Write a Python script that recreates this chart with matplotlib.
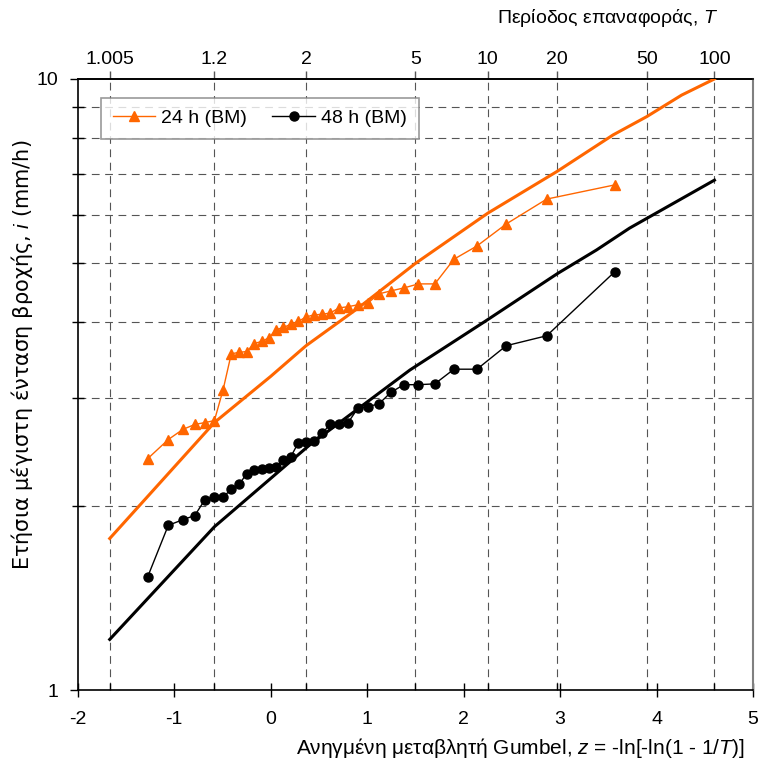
import numpy as np
import matplotlib
matplotlib.use("Agg")
import matplotlib.pyplot as plt
from matplotlib.ticker import LogLocator, NullFormatter, FixedLocator

# return periods shown on the top axis
T_ticks = [1.005, 1.2, 2, 5, 10, 20, 50, 100]
T_labels = ["1.005", "1.2", "2", "5", "10", "20", "50", "100"]

# observed annual maxima, plotted at their Gumbel reduced variate z
z_obs = [-1.276, -1.061, -0.910, -0.787, -0.680, -0.583, -0.493, -0.408, -0.327,
         -0.248, -0.170, -0.094, -0.018, 0.057, 0.133, 0.210, 0.287, 0.367,
         0.448, 0.531, 0.618, 0.708, 0.803, 0.903, 1.009, 1.123, 1.246, 1.381,
         1.532, 1.702, 1.900, 2.139, 2.442, 2.862, 3.569]
i24_obs = [2.39, 2.57, 2.67, 2.72, 2.74, 2.76, 3.10, 3.55, 3.57, 3.58, 3.69, 3.72,
           3.77, 3.89, 3.92, 3.97, 4.01, 4.08, 4.11, 4.12, 4.14, 4.22, 4.24, 4.27,
           4.30, 4.45, 4.50, 4.55, 4.62, 4.62, 5.07, 5.33, 5.79, 6.36, 6.71]
i48_obs = [1.53, 1.86, 1.90, 1.93, 2.05, 2.07, 2.07, 2.13, 2.17, 2.26, 2.29, 2.30,
           2.31, 2.32, 2.38, 2.41, 2.54, 2.55, 2.56, 2.63, 2.72, 2.72, 2.74, 2.89,
           2.91, 2.94, 3.07, 3.16, 3.16, 3.17, 3.35, 3.35, 3.66, 3.80, 4.84]

# fitted distribution curves
z_fit24 = [-1.668, -0.583, 0.0, 0.367, 0.9, 1.5, 2.25, 2.97, 3.55, 3.9, 4.26, 4.6]
i_fit24 = [1.77, 2.74, 3.26, 3.66, 4.21, 4.99, 6.03, 7.06, 8.10, 8.68, 9.41, 10.0]
z_fit48 = [-1.668, -0.583, 0.407, 1.444, 2.221, 2.97, 3.378, 3.72, 4.6]
i_fit48 = [1.21, 1.85, 2.52, 3.34, 4.01, 4.80, 5.25, 5.70, 6.83]

ORANGE = "#FF6600"

plt.rcParams["font.family"] = ["Liberation Sans", "DejaVu Sans"]
plt.rcParams["mathtext.fontset"] = "custom"
plt.rcParams["mathtext.it"] = "Liberation Sans:italic"
plt.rcParams["mathtext.rm"] = "Liberation Sans"
plt.rcParams["axes.unicode_minus"] = False


def gumbel_z(T):
    T = np.asarray(T, dtype=float)
    return -np.log(-np.log(1 - 1 / T))


zT = gumbel_z(T_ticks)

fig = plt.figure(figsize=(7.61, 7.69), dpi=100)
ax = fig.add_axes([0.1021, 0.1027, 0.8874, 0.7946])

ax.plot(z_fit24, i_fit24, color=ORANGE, lw=2.2, zorder=3)
ax.plot(z_fit48, i_fit48, color="black", lw=2.2, zorder=3)
ax.plot(z_obs, i24_obs, color=ORANGE, lw=1.0, marker="^", ms=7.5,
        label="24 h (BM)", zorder=4)
ax.plot(z_obs, i48_obs, color="black", lw=1.0, marker="o", ms=6.5,
        label="48 h (BM)", zorder=4)

ax.set_xlim(-2, 5)
ax.set_yscale("log")
ax.set_ylim(1, 10)

ax.set_xticks(range(-2, 6))
ax.xaxis.set_minor_locator(FixedLocator(zT))
ax.yaxis.set_major_locator(FixedLocator([1, 10]))
ax.set_yticklabels(["1", "10"])
ax.yaxis.set_minor_locator(LogLocator(subs=np.arange(2, 10)))
ax.yaxis.set_minor_formatter(NullFormatter())

ax.tick_params(axis="x", which="major", direction="inout", length=10, width=1,
               labelsize=14, pad=10)
ax.tick_params(axis="x", which="minor", direction="in", length=5, width=1)
ax.tick_params(axis="y", which="major", direction="out", length=6, width=1,
               labelsize=14, pad=8)
ax.tick_params(axis="y", which="minor", direction="inout", length=8, width=1)

ax.grid(False, which="major")
ax.grid(True, which="minor", color="#555555", linestyle=(0, (7, 5)), linewidth=0.8)
ax.set_axisbelow(True)

for side in ["left", "bottom", "top"]:
    ax.spines[side].set_linewidth(1.2)
ax.spines["right"].set_color("#808080")
ax.spines["right"].set_linewidth(1.5)

sec = ax.secondary_xaxis("top", functions=(lambda x: x, lambda x: x))
sec.set_xticks(zT)
sec.set_xticklabels(T_labels)
sec.tick_params(direction="out", length=6, width=1, color="#555555",
                labelsize=14, pad=2)
sec.spines["top"].set_linewidth(1.2)

leg = ax.legend(loc="upper left", bbox_to_anchor=(0.0345, 0.969), ncol=2,
                fontsize=14, frameon=True, fancybox=False, borderaxespad=0,
                handlelength=2.2, handletextpad=0.3, columnspacing=1.3,
                borderpad=0.6)
leg.get_frame().set_edgecolor("#808080")
leg.get_frame().set_linewidth(1.2)

fig.text(718 / 761, 1 - 18 / 769, "Περίοδος επαναφοράς, $T$", fontsize=14,
         ha="right", va="center")
fig.text(745 / 761, 1 - 748 / 769,
         "Ανηγμένη μεταβλητή Gumbel, $z$ = -ln[-ln(1 - 1/$T$)]",
         fontsize=15, ha="right", va="center")
fig.text(22 / 761, 1 - 355 / 769, "Ετήσια μέγιστη ένταση βροχής, $i$ (mm/h)",
         fontsize=15, family=["DejaVu Sans"], rotation=90, ha="center", va="center")

fig.savefig("out.png", dpi=100)
